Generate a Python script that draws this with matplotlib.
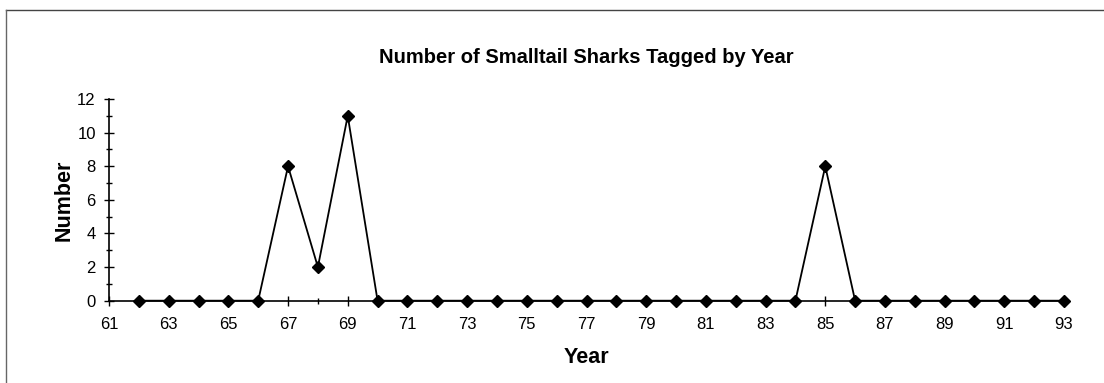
import matplotlib
matplotlib.use("Agg")
import matplotlib.pyplot as plt
from matplotlib.lines import Line2D
from matplotlib.ticker import MultipleLocator

plt.rcParams['font.family'] = ['Liberation Sans', 'DejaVu Sans']

years = list(range(62, 94))
counts = [0, 0, 0, 0, 0, 8, 2, 11, 0, 0, 0, 0, 0, 0, 0, 0, 0, 0, 0, 0, 0, 0, 0, 8,
          0, 0, 0, 0, 0, 0, 0, 0]
xtick_labels = [str(y) for y in range(61, 94, 2)]

fig = plt.figure(figsize=(11.04, 3.83), dpi=100)
ax = fig.add_axes([0.0987, 0.2149, 0.8651, 0.5266])

ax.plot(years, counts, color='black', lw=1.3, marker='D', markersize=6.3,
        markerfacecolor='black', markeredgecolor='black', clip_on=False, zorder=3)

ax.set_xlim(61, 93)
ax.set_ylim(0, 12)
ax.xaxis.set_minor_locator(MultipleLocator(1))
ax.set_xticks(list(range(61, 94, 2)))
ax.set_xticklabels(xtick_labels)
ax.yaxis.set_major_locator(MultipleLocator(2))
ax.yaxis.set_minor_locator(MultipleLocator(1))

ax.tick_params(axis='both', which='major', direction='inout', length=7, width=1,
               labelsize=12, colors='black')
ax.tick_params(axis='both', which='minor', direction='inout', length=5, width=1)
ax.tick_params(axis='x', which='major', pad=8)
ax.tick_params(axis='y', which='major', pad=6)

for s in ['top', 'right']:
    ax.spines[s].set_visible(False)
for s in ['left', 'bottom']:
    ax.spines[s].set_linewidth(1.2)
    ax.spines[s].set_color('black')

ax.set_title('Number of Smalltail Sharks Tagged by Year', fontsize=14.5,
             fontweight='bold', pad=26)
ax.set_xlabel('Year', fontsize=15.5, fontweight='bold', labelpad=11)
ax.set_ylabel('Number', fontsize=15.5, fontweight='bold', labelpad=2)

# outer frame lines (top and left)
fig.add_artist(Line2D([6/1104, 1.0], [1 - 10/383, 1 - 10/383],
                      transform=fig.transFigure, color='#444444', lw=1.0))
fig.add_artist(Line2D([6/1104, 6/1104], [0, 1 - 10/383],
                      transform=fig.transFigure, color='#666666', lw=1.0))

fig.savefig('out.png', dpi=100)
